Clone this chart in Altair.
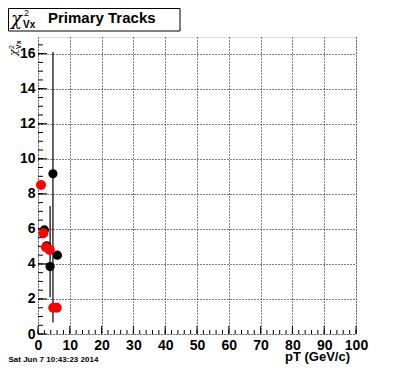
import altair as alt
import pandas as pd

# ---- data ----
black_x = [2.0, 2.7, 3.8, 4.7, 6.1]
black_y = [5.94, 5.03, 3.85, 9.14, 4.5]
red_x = [0.95, 1.7, 2.5, 3.7, 4.8, 5.9]
red_y = [8.5, 5.75, 4.95, 4.8, 1.5, 1.5]
err_x = [3.8, 4.7]
err_lo = [2.1, 0.65]
err_hi = [7.3, 16.1]

x_major = list(range(0, 101, 10))
x_minor = list(range(0, 101, 2))
y_major = list(range(0, 17, 2))
y_minor = [i * 0.5 for i in range(0, 34)]

W, H = 318, 297
FONT = "Liberation Sans"

xs = alt.Scale(domain=[0, 100], nice=False, zero=False)
ys = alt.Scale(domain=[0, 16.95], nice=False, zero=False)
xax = alt.Axis(values=x_major, grid=True, ticks=False, domain=False, title=None,
               labelPadding=4, labelFontSize=14, labelFontWeight="bold", labelFont=FONT,
               labelColor="black", gridColor="black", gridDash=[1, 2], gridOpacity=1,
               labelFlush=False, labelOverlap=False)
yax = alt.Axis(values=y_major, grid=True, ticks=False, domain=False, title=None,
               labelPadding=3, labelFontSize=14, labelFontWeight="bold", labelFont=FONT,
               labelColor="black", gridColor="black", gridDash=[1, 2], gridOpacity=1,
               labelFlush=False, labelOverlap=False)

black_df = pd.DataFrame({"x": black_x, "y": black_y})
red_df = pd.DataFrame({"x": red_x, "y": red_y})
err_df = pd.DataFrame({"x": err_x, "lo": err_lo, "hi": err_hi})

xmaj_df = pd.DataFrame({"v": x_major})
xmin_df = pd.DataFrame({"v": x_minor})
ymaj_df = pd.DataFrame({"v": y_major})
ymin_df = pd.DataFrame({"v": y_minor})
one = pd.DataFrame({"a": [0]})

X = lambda f: alt.X(f, type="quantitative", scale=xs, axis=xax)
Y = lambda f: alt.Y(f, type="quantitative", scale=ys, axis=yax)

xt_major = alt.Chart(xmaj_df).mark_rule(color="black").encode(
    x=X("v"), y=alt.value(H), y2=alt.value(H - 8))
xt_minor = alt.Chart(xmin_df).mark_rule(color="black").encode(
    x=X("v"), y=alt.value(H), y2=alt.value(H - 4))
yt_major = alt.Chart(ymaj_df).mark_rule(color="black").encode(
    y=Y("v"), x=alt.value(0), x2=alt.value(9))
yt_minor = alt.Chart(ymin_df).mark_rule(color="black").encode(
    y=Y("v"), x=alt.value(0), x2=alt.value(5))

errs = alt.Chart(err_df).mark_rule(color="black", strokeWidth=1.2).encode(
    x=X("x"), y=Y("lo"), y2="hi")
blk = alt.Chart(black_df).mark_circle(color="black", opacity=1, size=85).encode(
    x=X("x"), y=Y("y"))
red = alt.Chart(red_df).mark_circle(color="#ff0000", opacity=1, size=100).encode(
    x=X("x"), y=Y("y"))

def txt(s, x, y, size, weight="normal", angle=0, align="left", font=FONT, style="normal"):
    return alt.Chart(one).mark_text(text=s, fontSize=size, fontWeight=weight, font=font,
                                    fontStyle=style, angle=angle, align=align,
                                    baseline="alphabetic",
                                    color="black").encode(x=alt.value(x), y=alt.value(y))

box = alt.Chart(one).mark_rect(fill="white", stroke="black", strokeWidth=1).encode(
    x=alt.value(-29.5), x2=alt.value(142), y=alt.value(-28.5), y2=alt.value(-6))

title_parts = [
    txt("χ", -27, -12, 18, font="DejaVu Serif", style="italic"),
    txt("2", -14, -21, 9),
    txt("Vx", -15, -9, 10, "bold"),
    txt("Primary Tracks", 10, -14, 15, "bold"),
]

ytitle = [
    txt("χ", -21.5, 19, 11, angle=270, font="DejaVu Serif", style="italic"),
    txt("2", -24.5, 12, 7, angle=270),
    txt("Vx", -17.5, 12, 7, "bold", angle=270),
]

xtitle = txt("pT (GeV/c)", 312, 324, 13, "bold", align="right")
date = txt("Sat Jun  7 10:43:23 2014", -29.5, 325, 8, "bold")

chart = alt.layer(
    xt_minor, xt_major, yt_minor, yt_major, errs, blk, red,
    box, *title_parts, *ytitle, xtitle, date
).properties(
    width=W, height=H,
    padding={"left": 30, "top": 29, "right": 30, "bottom": 30},
    autosize=alt.AutoSizeParams(type="none"),
).configure_view(stroke="black", strokeWidth=1).configure(background="white")

chart.save("out.html", embed_options={"renderer": "svg", "actions": False})
